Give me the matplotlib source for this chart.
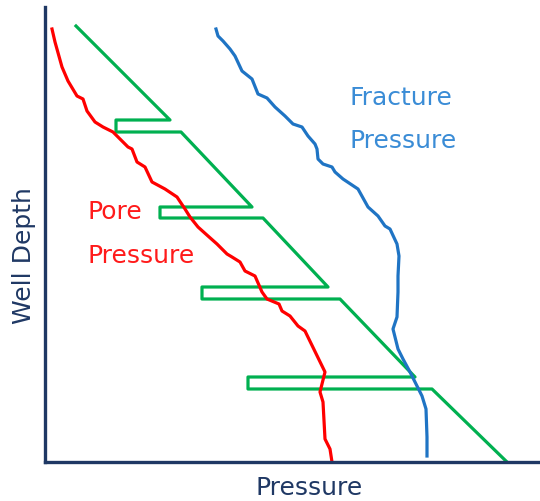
import matplotlib
matplotlib.use("Agg")
import matplotlib.pyplot as plt

# Pore pressure profile (pressure, depth) in arbitrary chart units
pore_pressure = [7, 10, 17, 23, 32, 38, 42, 50, 58, 68, 75, 83, 87, 92, 100, 107, 120, 132, 140, 145, 153, 163, 172, 182,
                 187, 195, 200, 210, 217, 222, 234, 237, 245, 253, 260, 280, 275, 278, 280, 285, 287]
pore_depth = [22, 35, 60, 74, 89, 92, 104, 115, 120, 125, 132, 140, 142, 155, 160, 175, 182, 190, 202, 210, 220, 229, 237, 247,
              250, 255, 264, 269, 285, 292, 297, 304, 309, 319, 324, 365, 385, 395, 432, 442, 455]

# Fracture pressure profile
frac_pressure = [171, 173, 178, 185, 190, 197, 207, 213, 222, 230, 240, 248, 257, 263, 270, 272, 273, 278, 287, 290, 298,
                 313, 323, 333, 340, 345, 352, 354, 353, 353, 352, 348, 353, 358, 365, 372, 377, 381, 382, 382]
frac_depth = [22, 29, 34, 42, 49, 64, 72, 87, 91, 100, 109, 117, 120, 129, 137, 142, 152, 157, 160, 165, 172,
              182, 200, 209, 219, 222, 237, 249, 269, 285, 310, 322, 342, 352, 365, 379, 389, 402, 430, 449]

# Casing design (staircase)
casing_pressure = [31, 125, 71, 71, 136, 207, 115, 115, 218, 283, 157, 157, 295, 370, 203, 203, 387, 462]
casing_depth = [19, 113, 113, 125, 125, 200, 200, 211, 211, 280, 280, 292, 292, 370, 370, 382, 382, 455]

navy = "#1F3864"
fig = plt.figure(figsize=(5.4, 5.02), dpi=100)
ax = fig.add_axes([45 / 540, 39 / 502, 495 / 540, 455 / 502])

ax.plot(casing_pressure, casing_depth, color="#00B050", lw=2.3, solid_joinstyle="round")
ax.plot(pore_pressure, pore_depth, color="#FF0000", lw=2.3, solid_joinstyle="round")
ax.plot(frac_pressure, frac_depth, color="#1F74C4", lw=2.3, solid_joinstyle="round")

ax.set_xlim(0, 495)
ax.set_ylim(455, 0)
ax.set_xticks([])
ax.set_yticks([])
for s in ["top", "right"]:
    ax.spines[s].set_visible(False)
for s in ["left", "bottom"]:
    ax.spines[s].set_color(navy)
    ax.spines[s].set_linewidth(2.4)

ax.set_xlabel("Pressure", fontsize=18, color=navy, va="center")
ax.xaxis.set_label_coords(0.533, -0.055)
ax.set_ylabel("Well Depth", fontsize=18, color=navy, va="center")
ax.yaxis.set_label_coords(-0.042, 0.457)

ax.text(304, 90, "Fracture", fontsize=18, color="#3A8CD6", ha="left", va="center")
ax.text(304, 133, "Pressure", fontsize=18, color="#3A8CD6", ha="left", va="center")
ax.text(42, 204, "Pore", fontsize=18, color="#FF1A1A", ha="left", va="center")
ax.text(42, 248, "Pressure", fontsize=18, color="#FF1A1A", ha="left", va="center")

fig.savefig("out.png", dpi=100)
